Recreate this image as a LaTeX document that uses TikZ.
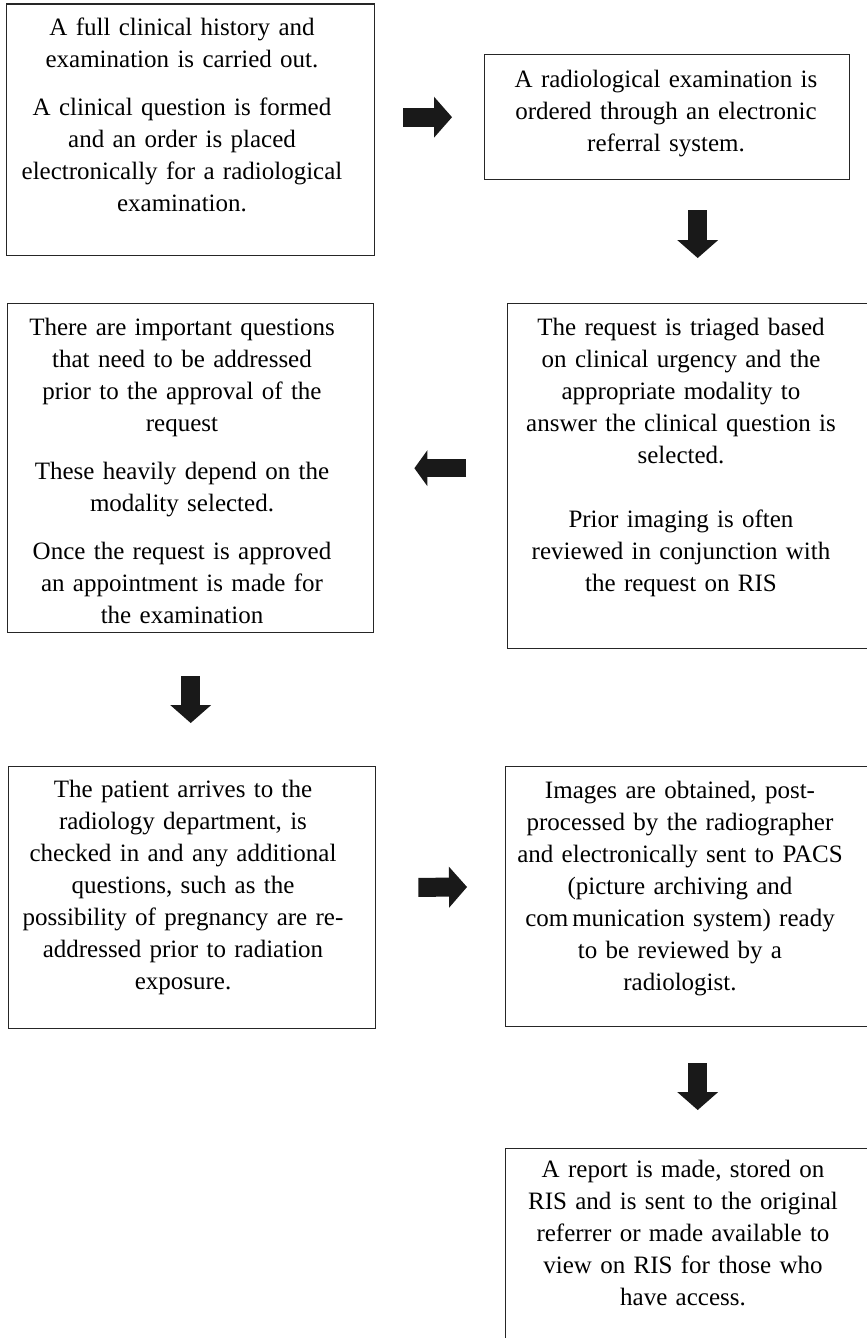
\documentclass[tikz,border=0pt]{standalone}
\usepackage{fontspec}
\setmainfont{Liberation Serif}
\usetikzlibrary{arrows.meta}

\begin{document}
\begin{tikzpicture}[
		x=1pt, y=-1pt,
		box/.style={rectangle, draw=black!85, line width=1.4pt, anchor=north west, inner sep=0pt},
		txt/.style={anchor=north, inner sep=0pt, text width=350pt, align=center, font=\fontsize{25pt}{32pt}\selectfont},
		flow/.style={line width=19pt, draw=black!90, -{Triangle[length=18pt, width=41pt, line width=0pt]}}
	]
  \useasboundingbox (0, 0) rectangle (867, 1338);
  \node (b1) [box, minimum width=368.5pt, minimum height=251.5pt] at (5.5, 3.5) {};
  \node (b2) [box, minimum width=365pt, minimum height=125pt] at (484, 54) {};
  \node (b3) [box, minimum width=366pt, minimum height=329pt] at (7, 303) {};
  \node (b4) [box, minimum width=366pt, minimum height=345pt] at (507, 303) {};
  \node (b5) [box, minimum width=367pt, minimum height=262pt] at (8, 766) {};
  \node (b6) [box, minimum width=367pt, minimum height=260pt] at (505, 766) {};
  \node (b7) [box, minimum width=367pt, minimum height=200pt] at (505, 1148) {};
  \node (t1) [txt] at (182, 18) {A full clinical history and\\examination is carried out.\\[16pt]A clinical question is formed\\and an order is placed\\electronically for a radiological\\examination.};
  \node (t2) [txt] at (666, 70) {A radiological examination is\\ordered through an electronic\\referral system.};
  \node (t3) [txt] at (182, 318) {There are important questions\\that need to be addressed\\prior to the approval of the\\request\\[16pt]These heavily depend on the\\modality selected.\\[16pt]Once the request is approved\\an appointment is made for\\the examination};
  \node (t4) [txt] at (681, 318) {The request is triaged based\\on clinical urgency and the\\appropriate modality to\\answer the clinical question is\\selected.\\[32pt]Prior imaging is often\\reviewed in conjunction with\\the request on RIS};
  \node (t5) [txt] at (183, 780) {The patient arrives to the\\radiology department, is\\checked in and any additional\\questions, such as the\\possibility of pregnancy are re-\\addressed prior to radiation\\exposure.};
  \node (t6) [txt] at (680, 781) {Images are obtained, post-\\processed by the radiographer\\and electronically sent to PACS\\(picture archiving and\\com\hspace{4pt}munication system) ready\\to be reviewed by a\\radiologist.};
  \node (t7) [txt] at (683, 1160) {A report is made, stored on\\RIS and is sent to the original\\referrer or made available to\\view on RIS for those who\\have access.};
  \coordinate (a2) at ([xshift=30.5pt]b2.south);
  \coordinate (a6) at ([xshift=8.5pt]b6.south);
  \draw[flow, shorten <=28pt, shorten >=32pt] (b1.east |- b2.west) -- (b2.west);
  \draw[flow, shorten <=30pt, shorten >=45pt] (a2) -- (a2 |- b4.north);
  \draw[flow, line width=18pt, -{Triangle[length=13pt, width=36pt, line width=0pt]}, shorten <=41pt, shorten >=40pt] (b4.west |- b3.east) -- (b3.east);
  \draw[flow, shorten <=43pt, shorten >=43pt] (b3.south) -- (b3.south |- b5.north);
  \draw[flow, shorten <=42pt, shorten >=38pt] ([yshift=10pt]b5.east) -- ([yshift=10pt]b6.west);
  \draw[flow, shorten <=36pt, shorten >=38pt] (a6) -- (a6 |- b7.north);
\end{tikzpicture}
\end{document}
